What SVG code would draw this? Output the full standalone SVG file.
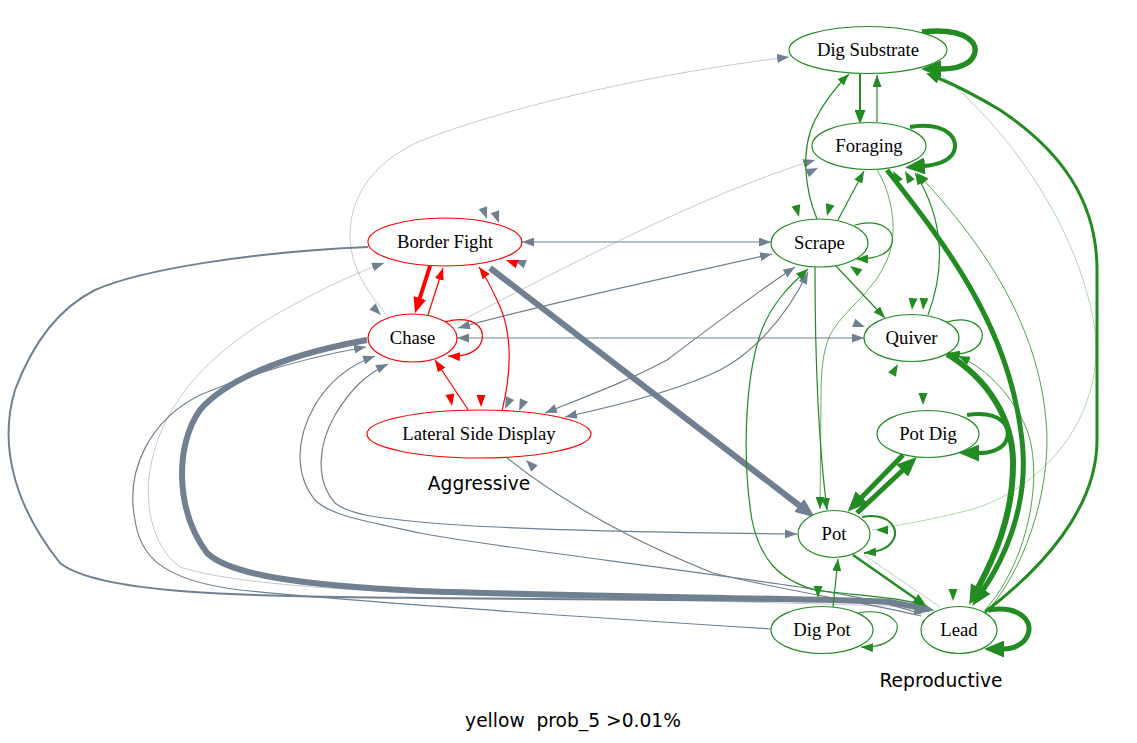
<svg xmlns="http://www.w3.org/2000/svg" xmlns:xlink="http://www.w3.org/1999/xlink" width="1137" height="743" viewBox="0 0 1137 743">
<style>
.g{stroke:#708090;fill:none;stroke-width:1.2}
.gl{stroke:#708090;fill:none;stroke-width:0.7;stroke-opacity:0.6}
.gr{stroke:#228b22;fill:none;stroke-width:1.2}
.grl{stroke:#228b22;fill:none;stroke-width:0.7;stroke-opacity:0.5}
.r{stroke:#ff0000;fill:none;stroke-width:1.2}
.ng ellipse{fill:#fff;stroke:#228b22;stroke-width:1.2}
.nr ellipse{fill:#fff;stroke:#ff0000;stroke-width:1.2}
.nt{font-family:"Liberation Serif","Times New Roman",serif;font-size:18.67px;text-anchor:middle;fill:#000}
.lt{font-family:"DejaVu Sans",sans-serif;font-size:18.67px;text-anchor:middle;fill:#000}
.fg{fill:#708090}.fgr{fill:#228b22}.fr{fill:#ff0000}
</style>
<defs>
<marker id="mg" viewBox="0 0 12 9" refX="12" refY="4.5" markerWidth="12" markerHeight="9" markerUnits="userSpaceOnUse" orient="auto-start-reverse"><path d="M0,0L12,4.5L0,9z" fill="#708090"/></marker>
<marker id="mgL" viewBox="0 0 20 16" refX="1" refY="8" markerWidth="20" markerHeight="16" markerUnits="userSpaceOnUse" orient="auto"><path d="M0,0L20,8L0,16z" fill="#708090"/></marker>
<marker id="mgr" viewBox="0 0 12 9" refX="12" refY="4.5" markerWidth="12" markerHeight="9" markerUnits="userSpaceOnUse" orient="auto"><path d="M0,0L12,4.5L0,9z" fill="#228b22"/></marker>
<marker id="mgrM" viewBox="0 0 14 11" refX="1" refY="5.5" markerWidth="14" markerHeight="11" markerUnits="userSpaceOnUse" orient="auto"><path d="M0,0L14,5.5L0,11z" fill="#228b22"/></marker>
<marker id="mgrL" viewBox="0 0 20 17" refX="1" refY="8.5" markerWidth="20" markerHeight="17" markerUnits="userSpaceOnUse" orient="auto"><path d="M0,0L20,8.5L0,17z" fill="#228b22"/></marker>
<marker id="mr" viewBox="0 0 12 9" refX="12" refY="4.5" markerWidth="12" markerHeight="9" markerUnits="userSpaceOnUse" orient="auto"><path d="M0,0L12,4.5L0,9z" fill="#ff0000"/></marker>
<marker id="mrL" viewBox="0 0 16 13" refX="1" refY="6.5" markerWidth="16" markerHeight="13" markerUnits="userSpaceOnUse" orient="auto"><path d="M0,0L16,6.5L0,13z" fill="#ff0000"/></marker>
<path id="ah" d="M0,0L-12,-4.5L-12,4.5z"/>
</defs>
<rect width="1137" height="743" fill="#fff"/>
<g id="connectors">
<!-- gray -->
<path class="g" d="M522,242L771,242" marker-start="url(#mg)" marker-end="url(#mg)"/>
<path class="g" d="M457,338L864,338" marker-start="url(#mg)" marker-end="url(#mg)"/>
<path class="g" style="stroke-width:6" d="M490,268L800,506" marker-end="url(#mgL)"/>
<path class="g" d="M458,328C560,300 680,275 772,254" marker-start="url(#mg)" marker-end="url(#mg)"/>
<path class="gl" d="M455,324C560,270 700,195 815,160" marker-end="url(#mg)"/>
<path class="gl" d="M388,316C372,298 350,270 350,235C350,195 375,160 423,140C500,110 640,75 789,57" marker-end="url(#mg)"/>
<path class="g" d="M795,267C760,290 720,320 667,360C630,380 590,395 545,413" marker-start="url(#mg)" marker-end="url(#mg)"/>
<path class="g" d="M808,272C785,320 750,355 720,370C680,390 620,405 565,417" marker-start="url(#mg)" marker-end="url(#mg)"/>
<path class="g" style="stroke-width:2" d="M368,247C250,252 140,270 95,290C55,310 30,350 15,390C0,440 10,500 60,563C100,595 250,596 420,598L900,602"/>
<path class="g" d="M771,629C600,618 350,602 240,590C160,580 140,555 135,520C125,470 150,420 200,395C260,370 320,355 366,347" marker-end="url(#mg)"/>
<path class="gl" d="M920,607C700,600 500,597 420,593C300,588 220,580 180,567C150,545 145,500 150,470C160,410 200,360 270,318C310,295 350,275 384,263" marker-end="url(#mg)"/>
<path class="g" style="stroke-width:6" d="M367,340C300,352 230,375 200,410C175,445 175,510 207,553C230,575 300,585 420,591C600,597 800,598 890,602L916,607" marker-end="url(#mgL)"/>
<path class="g" d="M921,614C880,600 830,592 800,587C650,565 480,545 420,533C360,520 330,515 315,500C295,475 295,440 315,405C330,380 350,365 375,356" marker-end="url(#mg)"/>
<path class="g" d="M388,364C365,375 350,390 335,415C318,445 315,480 335,503C350,515 380,518 420,522C500,530 700,533 797,534" marker-start="url(#mg)" marker-end="url(#mg)"/>
<path class="g" d="M507,458C560,500 630,540 713,573C780,590 880,605 921,616"/>
<!-- red -->
<path class="r" style="stroke-width:4" d="M430,266L419.5,299" marker-end="url(#mrL)"/>
<path class="r" d="M428,315L443,268" marker-end="url(#mr)"/>
<path class="r" d="M469,411L435,360" marker-end="url(#mr)"/>
<path class="r" d="M502,411C512,370 512,330 497,300C490,285 485,275 479,267" marker-end="url(#mr)"/>
<path class="r" d="M445,322C470,315 485,325 482,340C479,352 465,357 448,356" marker-end="url(#mr)"/>
<!-- green -->
<path class="gr" style="stroke-width:5.5" d="M922,32C967,27 985,45 970,61C963,67 953,69 940,69" marker-end="url(#mgrL)"/>
<path class="gr" style="stroke-width:2" d="M860,74L860,111" marker-end="url(#mgrM)"/>
<path class="gr" d="M877,122L877,75" marker-end="url(#mgr)"/>
<path class="gr" style="stroke-width:4" d="M910,127C947,121 962,140 952,155C946,162 937,165 924,166" marker-end="url(#mgrL)"/>
<path class="gr" d="M838,220L864,171" marker-end="url(#mgr)"/>
<path class="gr" d="M817,219C805,190 800,150 815,120C825,100 838,85 849,74" marker-end="url(#mgr)"/>
<path class="gr" d="M855,225C880,218 895,230 892,243C889,256 873,259 856,259" marker-end="url(#mgr)"/>
<path class="gr" d="M835,265L885,318" marker-end="url(#mgr)"/>
<path class="gr" d="M947,322C972,315 985,328 982,338C979,350 965,356 948,353" marker-end="url(#mgr)"/>
<path class="gr" d="M928,315C945,270 945,220 915,173" marker-end="url(#mgr)"/>
<path class="gr" style="stroke-width:0.8" d="M990,608C1030,560 1052,480 1046,420C1038,330 990,250 917,173" marker-end="url(#mgr)"/>
<path class="gr" style="stroke-width:0.8" d="M985,610C1030,560 1045,470 1025,425C1008,390 985,368 958,356" marker-end="url(#mgr)"/>
<path class="gr" style="stroke-width:0.7" d="M877,170C890,190 900,230 887,260C875,290 845,310 833,330C823,345 821,370 821,400L820,509" marker-end="url(#mgr)"/>
<path class="gr" d="M815,267C815,350 818,440 827,510" marker-end="url(#mgr)"/>
<path class="gr" d="M922,605C900,597 850,595 815,590C780,580 760,560 752,520C742,460 745,380 760,335C770,305 790,285 808,269" marker-end="url(#mgr)"/>
<path class="gr" d="M833,607L838,559" marker-end="url(#mgr)"/>
<path class="gr" d="M858,613C885,608 900,620 897,630C894,642 878,648 861,647" marker-end="url(#mgr)"/>
<path class="gr" style="stroke-width:2" d="M862,517C890,512 900,530 893,540C888,550 875,552 864,553" marker-end="url(#mgr)"/>
<path class="grl" d="M940,607L864,555"/>
<path class="grl" d="M940,74C1010,130 1080,230 1095,330C1105,420 1040,490 970,510C930,520 900,525 872,530"/>
<path class="gr" style="stroke-width:5" d="M887,170C950,250 1010,330 1022,440C1030,510 1000,565 983,590" marker-end="url(#mgrL)"/>
<path class="gr" style="stroke-width:6" d="M947,354C990,380 1012,420 1013,460C1014,520 990,565 978,588" marker-end="url(#mgrL)"/>
<path class="gr" style="stroke-width:4" d="M967,415C1002,410 1014,428 1005,443C999,451 990,453 978,453" marker-end="url(#mgrL)"/>
<path class="gr" style="stroke-width:5" d="M903,455L861,498" marker-end="url(#mgrL)"/>
<path class="gr" style="stroke-width:5" d="M857,513L903,470" marker-end="url(#mgrL)"/>
<path class="gr" style="stroke-width:5" d="M988,610C1022,604 1038,625 1024,641C1017,648 1010,649 1003,649" marker-end="url(#mgrL)"/>
<path class="gr" style="stroke-width:3" d="M985,612C1040,570 1097,510 1097,440L1097,270C1097,200 1060,150 1000,110C975,95 955,85 938,78" marker-end="url(#mgrM)"/>
<path class="gr" style="stroke-width:2.5" d="M853,555L916,599" marker-end="url(#mgrM)"/>
<!-- detached arrowheads -->
<use xlink:href="#ah" class="fg" transform="translate(487,219) rotate(70)"/>
<use xlink:href="#ah" class="fg" transform="translate(499,223) rotate(70)"/>
<use xlink:href="#ah" class="fg" transform="translate(514,260) rotate(200)"/>
<use xlink:href="#ah" class="fg" transform="translate(381,315) rotate(45)"/>
<use xlink:href="#ah" class="fg" transform="translate(505,409) rotate(115)"/>
<use xlink:href="#ah" class="fg" transform="translate(519,411) rotate(115)"/>
<use xlink:href="#ah" class="fg" transform="translate(526,460) rotate(-135)"/>
<use xlink:href="#ah" class="fg" transform="translate(865,327) rotate(20)"/>
<use xlink:href="#ah" class="fg" transform="translate(818,168) rotate(-25)"/>
<use xlink:href="#ah" class="fr" transform="translate(506,260) rotate(200)"/>
<use xlink:href="#ah" class="fr" transform="translate(452,406) rotate(80)"/>
<use xlink:href="#ah" class="fr" transform="translate(481,407) rotate(90)"/>
<use xlink:href="#ah" class="fgr" transform="translate(799,217) rotate(75)"/>
<use xlink:href="#ah" class="fgr" transform="translate(827,216) rotate(105)"/>
<use xlink:href="#ah" class="fgr" transform="translate(850,266) rotate(-145)"/>
<use xlink:href="#ah" class="fgr" transform="translate(912,310) rotate(95)"/>
<use xlink:href="#ah" class="fgr" transform="translate(923,310) rotate(95)"/>
<use xlink:href="#ah" class="fgr" transform="translate(898,364) rotate(-60)"/>
<use xlink:href="#ah" class="fgr" transform="translate(923,405) rotate(90)"/>
<use xlink:href="#ah" class="fgr" transform="translate(876,530) rotate(180)"/>
<use xlink:href="#ah" class="fgr" transform="translate(818,598) rotate(90)"/>
<use xlink:href="#ah" class="fgr" transform="translate(953,601) rotate(90)"/>
<use xlink:href="#ah" class="fgr" transform="translate(893,171) rotate(-120)"/>
<use xlink:href="#ah" class="fgr" transform="translate(905,171) rotate(-120)"/>
</g>
<g id="node-dig-substrate" class="ng"><ellipse cx="868" cy="50" rx="79" ry="23.5"/><text class="nt" x="868" y="56">Dig Substrate</text></g>
<g id="node-foraging" class="ng"><ellipse cx="869" cy="146" rx="57" ry="23.5"/><text class="nt" x="869" y="152">Foraging</text></g>
<g id="node-scrape" class="ng"><ellipse cx="819.5" cy="243" rx="48.5" ry="24"/><text class="nt" x="819.5" y="249">Scrape</text></g>
<g id="node-quiver" class="ng"><ellipse cx="911.5" cy="338" rx="47.5" ry="23.5"/><text class="nt" x="911.5" y="344">Quiver</text></g>
<g id="node-pot-dig" class="ng"><ellipse cx="928" cy="434" rx="51" ry="23.5"/><text class="nt" x="928" y="440">Pot Dig</text></g>
<g id="node-pot" class="ng"><ellipse cx="834" cy="534" rx="36" ry="23.5"/><text class="nt" x="834" y="540">Pot</text></g>
<g id="node-dig-pot" class="ng"><ellipse cx="822" cy="630" rx="51" ry="23.5"/><text class="nt" x="822" y="636">Dig Pot</text></g>
<g id="node-lead" class="ng"><ellipse cx="959" cy="630" rx="38" ry="23.5"/><text class="nt" x="959" y="636">Lead</text></g>
<g id="node-border-fight" class="nr"><ellipse cx="445" cy="242" rx="77" ry="24"/><text class="nt" x="445" y="248">Border Fight</text></g>
<g id="node-chase" class="nr"><ellipse cx="412.5" cy="338" rx="44.5" ry="24"/><text class="nt" x="412.5" y="344">Chase</text></g>
<g id="node-lateral-side-display" class="nr"><ellipse cx="479" cy="434" rx="112" ry="24"/><text class="nt" x="479" y="440">Lateral Side Display</text></g>
<g id="labels">
<text class="lt" x="479" y="490">Aggressive</text>
<text class="lt" x="941" y="687">Reproductive</text>
<text class="lt" x="573" y="727" style="white-space:pre">yellow  prob_5 &gt;0.01%</text>
</g>
</svg>
